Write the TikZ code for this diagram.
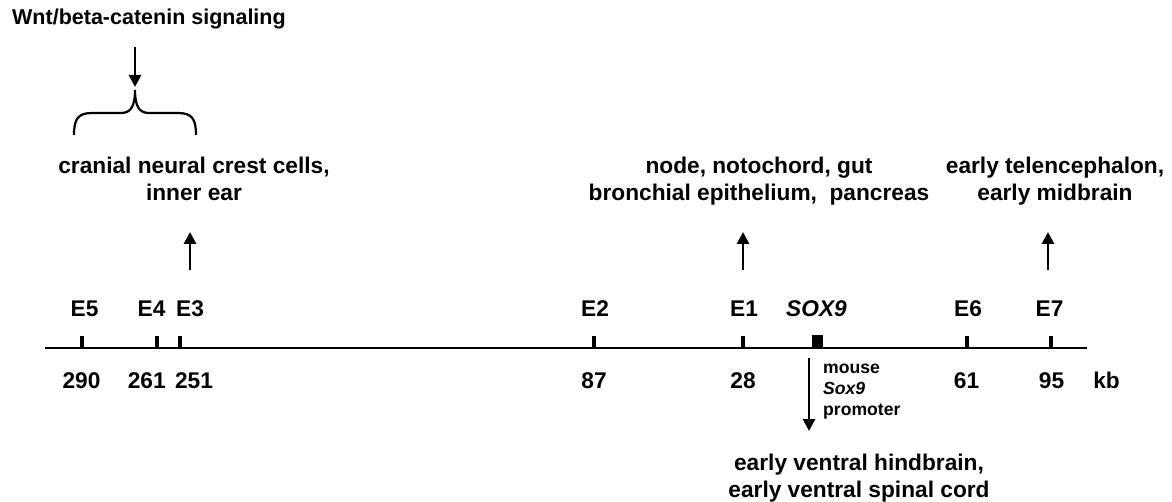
\documentclass[tikz,border=0pt]{standalone}
\usepackage{fontspec}
\setmainfont{Liberation Sans}
\usetikzlibrary{arrows.meta}
\begin{document}
\begin{tikzpicture}[x=1pt,y=-1pt,
  lbl/.style={inner sep=0pt, font=\bfseries\fontsize{22.7}{27}\selectfont},
  titlelbl/.style={inner sep=0pt, font=\bfseries\fontsize{21.5}{26}\selectfont},
  small/.style={inner sep=0pt, font=\bfseries\fontsize{17.6}{21}\selectfont, align=left},
  arr/.style={line width=2.8pt, -{Triangle[length=12pt,width=12pt]}},
  axisline/.style={line width=2.6pt},
  tickmark/.style={line width=3.2pt},
  bracepath/.style={line width=2.2pt},
  ]
\useasboundingbox (0,0) rectangle (1172,502);

% title, arrow and brace
\node[titlelbl, anchor=base west] (wnt) at (12,25) {Wnt/beta-catenin signaling};
\coordinate (wntS) at (135,47);
\coordinate (wntE) at (135,87);
\draw[arr] (wntS) -- (wntE);
\draw[bracepath] (74,135) .. controls (74,119) and (78,113) .. (92,113) -- (121,113)
  .. controls (131,113) and (135,106) .. (135,90)
  .. controls (135,106) and (139,113) .. (149,113) -- (178,113)
  .. controls (192,113) and (196,119) .. (196,135);

% expression labels
\node[lbl, align=center, anchor=north] (cnc) at (194,157) {cranial neural crest cells,\\inner ear};
\node[lbl, align=center, anchor=north] (nodelbl) at (759,157) {node, notochord, gut\\bronchial epithelium,\ \ pancreas};
\node[lbl, align=center, anchor=north] (tel) at (1055,157) {early telencephalon,\\early midbrain};
\node[lbl, align=center, anchor=north] (vent) at (859,454) {early ventral hindbrain,\\early ventral spinal cord};

% up arrows
\coordinate (a3s) at (190,270); \coordinate (a3e) at (190,232);
\coordinate (a1s) at (743,270); \coordinate (a1e) at (743,232);
\coordinate (a7s) at (1048,270); \coordinate (a7e) at (1048,232);
\draw[arr] (a3s) -- (a3e);
\draw[arr] (a1s) -- (a1e);
\draw[arr] (a7s) -- (a7e);

% element labels
\node[lbl, anchor=base] (E5) at (84.5,317) {E5};
\node[lbl, anchor=base] (E4) at (151.5,317) {E4};
\node[lbl, anchor=base] (E3) at (190,317) {E3};
\node[lbl, anchor=base] (E2) at (595,317) {E2};
\node[lbl, anchor=base] (E1) at (744,317) {E1};
\node[lbl, anchor=base] (sox) at (816.5,317) {\itshape SOX9};
\node[lbl, anchor=base] (E6) at (968,317) {E6};
\node[lbl, anchor=base] (E7) at (1049.5,317) {E7};

% axis
\coordinate (axL) at (45,348);
\coordinate (axR) at (1087,348);
\draw[axisline] (axL) -- (axR);
\foreach \x in {82,157,180,594,743,967,1051}
  \draw[tickmark] (\x,348) -- (\x,336);
\node[fill=black, inner sep=0pt, minimum width=11pt, minimum height=13pt] (soxbox) at (817.5,341.5) {};

% distances
\node[lbl, anchor=base] (n290) at (81.5,388) {290};
\node[lbl, anchor=base] (n261) at (146.7,388) {261};
\node[lbl, anchor=base] (n251) at (194,388) {251};
\node[lbl, anchor=base] (n87) at (594,388) {87};
\node[lbl, anchor=base] (n28) at (743,388) {28};
\node[lbl, anchor=base] (n61) at (966.5,388) {61};
\node[lbl, anchor=base] (n95) at (1051.5,388) {95};
\node[lbl, anchor=base] (kb) at (1106.5,388) {kb};

% promoter
\coordinate (ds) at (809,358); \coordinate (de) at (809,431);
\draw[arr] (ds) -- (de);
\node[small, anchor=north west] (mouse) at (823,364) {mouse\\\textit{Sox9}\\promoter};
\end{tikzpicture}
\end{document}
